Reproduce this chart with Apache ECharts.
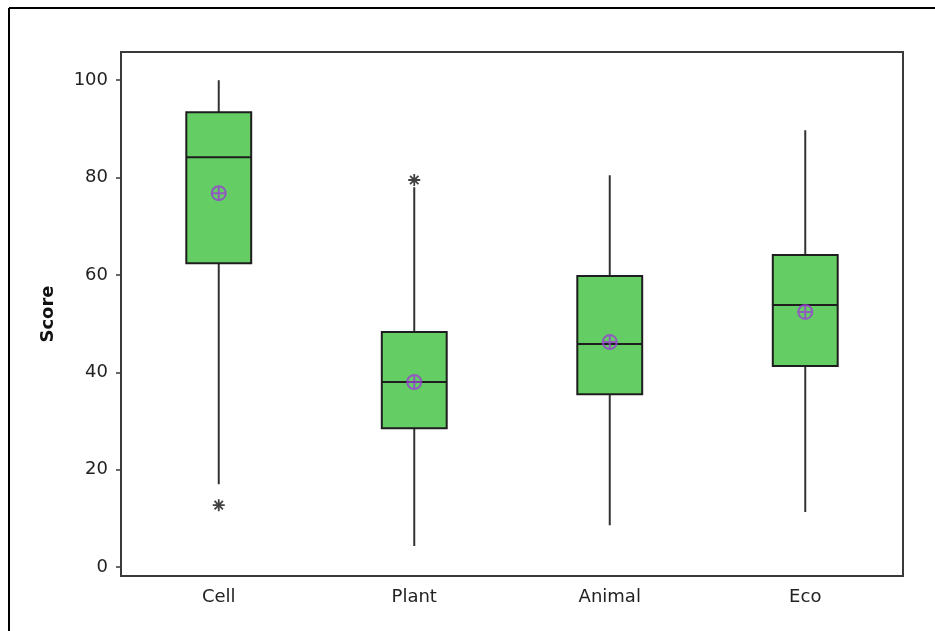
<!DOCTYPE html>
<html>
<head>
<meta charset="utf-8">
<script src="https://cdn.jsdelivr.net/npm/echarts@6/dist/echarts.min.js"></script>
<style>
  html, body { margin: 0; padding: 0; background: #fff; }
  #chart { width: 935px; height: 631px; }
</style>
</head>
<body>
<div id="chart"></div>
<script>
const categories = ['Cell', 'Plant', 'Animal', 'Eco'];
const whiskerLow = [17.0, 4.3, 8.6, 11.3];
const q1 = [62.4, 28.5, 35.5, 41.3];
const median = [84.2, 38.0, 45.8, 53.8];
const q3 = [93.4, 48.3, 59.8, 64.1];
const whiskerHigh = [100, 78.0, 80.5, 89.7];
const means = [76.8, 38.0, 46.2, 52.4];
const outliers = [['Cell', 12.7], ['Plant', 79.5]];
const yTicks = [0, 20, 40, 60, 80, 100];

const BOX_COLOR = '#64cd64';
const MEAN_COLOR = '#9a3fd6';
const LINE_COLOR = '#1e1e1e';
const FONT = 'DejaVu Sans';

const boxData = categories.map((c, i) => [i, whiskerLow[i], q1[i], median[i], q3[i], whiskerHigh[i]]);

function renderBox(params, api) {
  const x = api.value(0);
  const lo = api.coord([x, api.value(1)]);
  const b1 = api.coord([x, api.value(2)]);
  const md = api.coord([x, api.value(3)]);
  const b3 = api.coord([x, api.value(4)]);
  const hi = api.coord([x, api.value(5)]);
  const half = api.size([1, 0])[0] * 0.166;
  const lineStyle = { stroke: LINE_COLOR, lineWidth: 2 };
  return {
    type: 'group',
    children: [
      {
        type: 'line',
        shape: { x1: lo[0], y1: lo[1], x2: hi[0], y2: hi[1] },
        style: { stroke: '#333', lineWidth: 2 },
      },
      {
        type: 'rect',
        shape: { x: b3[0] - half, y: b3[1], width: half * 2, height: b1[1] - b3[1] },
        style: { fill: BOX_COLOR, stroke: LINE_COLOR, lineWidth: 2 },
      },
      {
        type: 'line',
        shape: { x1: md[0] - half, y1: md[1], x2: md[0] + half, y2: md[1] },
        style: lineStyle,
      },
    ],
  };
}

const chart = echarts.init(document.getElementById('chart'));
chart.setOption({
  animation: false,
  backgroundColor: '#fff',
  grid: {
    left: 121,
    right: 32,
    top: 52,
    bottom: 55,
    show: true,
    borderColor: '#3a3a3a',
    borderWidth: 2,
    backgroundColor: 'transparent',
  },
  graphic: [
    { type: 'line', shape: { x1: 9, y1: 8, x2: 9, y2: 631 }, style: { stroke: '#000', lineWidth: 2 } },
    { type: 'line', shape: { x1: 9, y1: 8, x2: 935, y2: 8 }, style: { stroke: '#000', lineWidth: 2 } },
  ],
  xAxis: {
    type: 'category',
    data: categories,
    boundaryGap: true,
    axisLine: { show: false },
    axisTick: { alignWithLabel: true, length: 5, lineStyle: { color: '#3a3a3a', width: 1.5 } },
    axisLabel: { color: '#222', fontFamily: FONT, fontSize: 18, margin: 12 },
    splitLine: { show: false },
  },
  yAxis: {
    type: 'value',
    min: -1.85,
    max: 105.8,
    name: 'Score',
    nameLocation: 'middle',
    nameGap: 64,
    nameTextStyle: { color: '#111', fontFamily: FONT, fontSize: 18, fontWeight: 'bold' },
    axisLine: { show: false },
    axisTick: { show: true, length: 5, customValues: yTicks, lineStyle: { color: '#3a3a3a', width: 1.5 } },
    axisLabel: { color: '#222', fontFamily: FONT, fontSize: 18, margin: 13, customValues: yTicks },
    splitLine: { show: false },
  },
  series: [
    {
      type: 'custom',
      renderItem: renderBox,
      encode: { x: 0, y: [1, 2, 3, 4, 5] },
      data: boxData,
      z: 2,
    },
    {
      type: 'scatter',
      data: categories.map((c, i) => [c, means[i]]),
      symbol: 'path://M0,10 A10,10 0 1,1 20,10 A10,10 0 1,1 0,10 Z M10,0 L10,20 M0,10 L20,10',
      symbolSize: 14,
      itemStyle: { color: 'transparent', borderColor: MEAN_COLOR, borderWidth: 2 },
      z: 5,
    },
    {
      type: 'scatter',
      data: outliers,
      symbol: 'path://M0,5 L10,5 M5,0 L5,10 M1.5,1.5 L8.5,8.5 M8.5,1.5 L1.5,8.5',
      symbolSize: 12,
      itemStyle: { color: 'transparent', borderColor: '#111', borderWidth: 1.8 },
      z: 5,
    },
  ],
});
</script>
</body>
</html>
